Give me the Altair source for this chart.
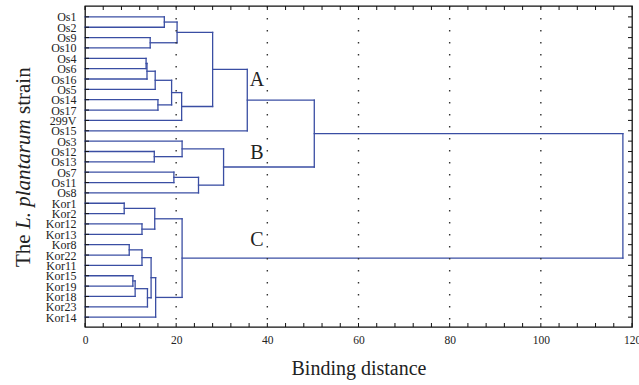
import altair as alt
import pandas as pd

# ---- data ----
leaves = ["Os1", "Os2", "Os9", "Os10", "Os4", "Os6", "Os16", "Os5", "Os14", "Os17",
          "299V", "Os15", "Os3", "Os12", "Os13", "Os7", "Os11", "Os8",
          "Kor1", "Kor2", "Kor12", "Kor13", "Kor8", "Kor22", "Kor11", "Kor15",
          "Kor19", "Kor18", "Kor23", "Kor14"]

# merges: (left child, right child, binding distance); new nodes are m1, m2, ...
merge_left = ["Os1", "Os9", "m1", "Os4", "m4", "m5", "Os14", "m6", "m8", "m3", "m10",
              "Os12", "Os3", "Os7", "m14", "m13", "m11",
              "Kor1", "Kor12", "m18", "Kor8", "m21", "Kor15", "m23", "m24", "m22", "m26",
              "m20", "m17"]
merge_right = ["Os2", "Os10", "m2", "Os6", "Os16", "Os5", "Os17", "m7", "299V", "m9", "Os15",
               "Os13", "m12", "Os11", "Os8", "m15", "m16",
               "Kor2", "Kor13", "m19", "Kor22", "Kor11", "Kor19", "Kor18", "Kor23", "m25", "Kor14",
               "m27", "m28"]
merge_height = [17.4, 14.3, 20.2, 13.4, 13.6, 15.4, 16.0, 19.0, 21.2, 28.0, 35.6,
                15.2, 21.3, 19.5, 24.9, 30.4, 50.3,
                8.6, 12.5, 15.3, 9.7, 12.5, 10.5, 11.0, 13.7, 14.5, 15.5,
                21.3, 118.0]

cluster_names = ["A", "B", "C"]
cluster_x = [37.7, 37.7, 37.7]
cluster_y = [6.1, 13.1, 21.55]

x_ticks = [0, 20, 40, 60, 80, 100, 120]
grid_vals = [20, 40, 60, 80, 100]
minor_ticks = list(range(0, 121, 4))

# ---- build the dendrogram segments from the merge list ----
pos = {name: i for i, name in enumerate(leaves)}
hgt = {name: 0.0 for name in leaves}
segs = []
for k, (a, b, h) in enumerate(zip(merge_left, merge_right, merge_height)):
    segs.append(dict(x=hgt[a], x2=h, y=pos[a], y2=pos[a]))
    segs.append(dict(x=hgt[b], x2=h, y=pos[b], y2=pos[b]))
    segs.append(dict(x=h, x2=h, y=pos[a], y2=pos[b]))
    node = f"m{k + 1}"
    pos[node] = (pos[a] + pos[b]) / 2
    hgt[node] = h
seg_df = pd.DataFrame(segs)

leaf_df = pd.DataFrame({"idx": list(range(len(leaves))), "name": leaves})
grid_df = pd.DataFrame({"v": grid_vals})
minor_df = pd.DataFrame({"v": minor_ticks})
lab_df = pd.DataFrame({"name": cluster_names, "x": cluster_x, "y": cluster_y})

W, H = 547, 321
SERIF = "Liberation Serif"
BLUE = "#3a4ea3"

label_expr = "[" + ",".join(f"'{n}'" for n in leaves) + "][datum.value]"

xscale = alt.Scale(domain=[0, 120], nice=False, zero=False)
yscale = alt.Scale(domain=[-1.05, 29.95], nice=False, zero=False, reverse=True)

xaxis = alt.Axis(values=x_ticks, title="Binding distance")
yaxis = alt.Axis(values=list(range(len(leaves))), labelExpr=label_expr, title=None)

base_seg = alt.Chart(seg_df).mark_rule(color=BLUE, strokeWidth=1.3, strokeCap="square").encode(
    x=alt.X("x:Q", scale=xscale, axis=xaxis),
    x2="x2:Q",
    y=alt.Y("y:Q", scale=yscale, axis=yaxis),
    y2="y2:Q",
)

grid = alt.Chart(grid_df).mark_rule(color="#333", strokeWidth=1.4, strokeDash=[1.4, 10.6]).encode(
    x=alt.X("v:Q", scale=xscale, axis=xaxis),
    y=alt.value(0), y2=alt.value(H),
)

tick_left = alt.Chart(leaf_df).mark_rule(color="#111", strokeWidth=1).encode(
    y=alt.Y("idx:Q", scale=yscale, axis=yaxis), x=alt.value(0), x2=alt.value(4))
tick_right = alt.Chart(leaf_df).mark_rule(color="#111", strokeWidth=1).encode(
    y=alt.Y("idx:Q", scale=yscale, axis=yaxis), x=alt.value(W - 4), x2=alt.value(W))
tick_bottom = alt.Chart(minor_df).mark_rule(color="#111", strokeWidth=1).encode(
    x=alt.X("v:Q", scale=xscale, axis=xaxis), y=alt.value(H - 4), y2=alt.value(H))
tick_top = alt.Chart(minor_df).mark_rule(color="#111", strokeWidth=1).encode(
    x=alt.X("v:Q", scale=xscale, axis=xaxis), y=alt.value(0), y2=alt.value(4))

letters = alt.Chart(lab_df).mark_text(font=SERIF, fontSize=20, color="#222",
                                       align="center", baseline="middle").encode(
    x=alt.X("x:Q", scale=xscale, axis=xaxis), y=alt.Y("y:Q", scale=yscale, axis=yaxis),
    text="name:N")

# y-axis title with italic species name
ttl = pd.DataFrame({"t": [0]})
TX = -55
t1 = alt.Chart(ttl).mark_text(text="The", font=SERIF, fontSize=21, angle=270, align="left",
                              baseline="alphabetic", color="#222").encode(
    x=alt.value(TX), y=alt.value(261))
t2 = alt.Chart(ttl).mark_text(text="L. plantarum", font=SERIF, fontSize=21, fontStyle="italic",
                              angle=270, align="left", baseline="alphabetic", color="#222").encode(
    x=alt.value(TX), y=alt.value(223))
t3 = alt.Chart(ttl).mark_text(text="strain", font=SERIF, fontSize=21, angle=270, align="left",
                              baseline="alphabetic", color="#222").encode(
    x=alt.value(TX), y=alt.value(108))

chart = alt.layer(base_seg, grid, tick_left, tick_right, tick_bottom, tick_top, letters,
                  t1, t2, t3).properties(
    width=W, height=H,
    autosize=alt.AutoSizeParams(type="none"),
    padding={"left": 85, "top": 6, "right": 7, "bottom": 58},
    background="white",
).configure_view(stroke="#111", strokeWidth=1.3).configure_axis(
    labelFont=SERIF, titleFont=SERIF, labelColor="#222", titleColor="#222",
    ticks=False, domain=False, grid=False, labelOverlap=False, labelBound=False,
    labelFlush=False, titleFontWeight="normal",
).configure_axisX(
    labelFontSize=11.5, labelPadding=7, titleFontSize=20, titlePadding=13,
).configure_axisY(
    labelFontSize=12, labelPadding=9,
)

chart.save("out.html", embed_options={"renderer": "svg", "actions": False})
